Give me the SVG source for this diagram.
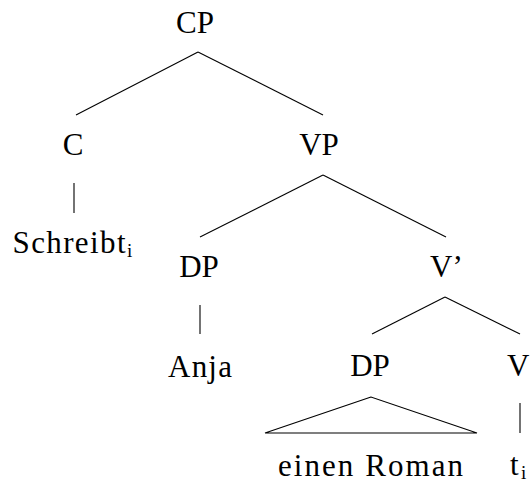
<svg xmlns="http://www.w3.org/2000/svg" width="531" height="483" viewBox="0 0 531 483">
  <style>
    .lbl { font-family: "Liberation Serif", "Times New Roman", serif; font-size: 31px; fill: #000; }
    .sub { font-family: "Liberation Serif", "Times New Roman", serif; font-size: 19px; fill: #000; }
    .mid { text-anchor: middle; }
    .edge { stroke: #000; stroke-width: 1.1; fill: none; }
  </style>
  <rect width="531" height="483" fill="#fff"/>

  <!-- branches of the tree -->
  <g id="connectors">
    <line class="edge" x1="198" y1="52" x2="76" y2="115"/>
    <line class="edge" x1="198" y1="52" x2="323" y2="115"/>
    <line class="edge" x1="74" y1="183" x2="74" y2="213"/>
    <line class="edge" x1="323" y1="175" x2="200" y2="237"/>
    <line class="edge" x1="323" y1="175" x2="446" y2="237"/>
    <line class="edge" x1="200" y1="305" x2="200" y2="334"/>
    <line class="edge" x1="445" y1="297" x2="372" y2="334"/>
    <line class="edge" x1="445" y1="297" x2="520" y2="334"/>
    <polygon class="edge" points="371,397 265,433 477,433"/>
    <line class="edge" x1="520" y1="403" x2="520" y2="433"/>
  </g>

  <g id="node-cp"><text class="lbl mid" x="195" y="33">CP</text></g>
  <g id="node-c"><text class="lbl mid" x="73" y="155">C</text></g>
  <g id="node-vp"><text class="lbl mid" x="319" y="155">VP</text></g>
  <g id="node-schreibt">
    <text class="lbl" x="12.5" y="253" textLength="113" lengthAdjust="spacing">Schreibt</text>
    <text class="sub" x="127" y="257">i</text>
  </g>
  <g id="node-dp1"><text class="lbl mid" x="199" y="277">DP</text></g>
  <g id="node-vbar"><text class="lbl" x="430" y="277">V’</text></g>
  <g id="node-anja"><text class="lbl" x="168" y="377" textLength="64" lengthAdjust="spacing">Anja</text></g>
  <g id="node-dp2"><text class="lbl mid" x="370" y="376">DP</text></g>
  <g id="node-v"><text class="lbl" x="507" y="376">V</text></g>
  <g id="node-roman"><text class="lbl" x="278" y="476" textLength="185" lengthAdjust="spacing">einen Roman</text></g>
  <g id="node-trace">
    <text class="lbl" x="510" y="475">t</text>
    <text class="sub" x="521" y="478.5">i</text>
  </g>
</svg>
